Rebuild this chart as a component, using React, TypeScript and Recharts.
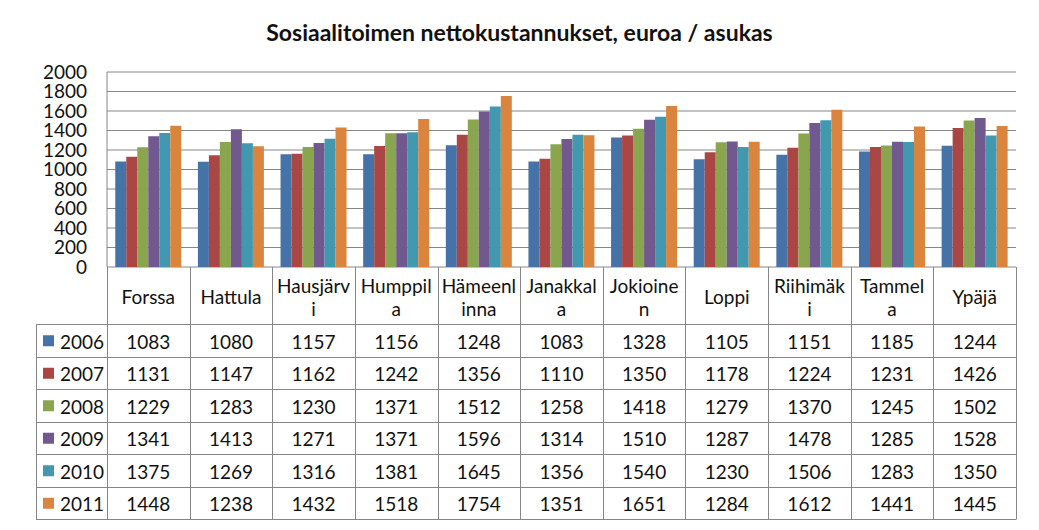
import React from 'react';
import { BarChart, Bar, XAxis, YAxis, CartesianGrid } from 'recharts';

// Municipality labels as shown in the data table (Excel wraps some of them mid-word)
const LABELS = [
  'Forssa', 'Hattula', 'Hausjärv\ni', 'Humppil\na', 'Hämeenl\ninna', 'Janakkal\na',
  'Jokioine\nn', 'Loppi', 'Riihimäk\ni', 'Tammel\na', 'Ypäjä',
];
const CATEGORIES = LABELS.map(l => l.replace('\n', ''));

const YEARS = ['2006', '2007', '2008', '2009', '2010', '2011'];
const V2006 = [1083, 1080, 1157, 1156, 1248, 1083, 1328, 1105, 1151, 1185, 1244];
const V2007 = [1131, 1147, 1162, 1242, 1356, 1110, 1350, 1178, 1224, 1231, 1426];
const V2008 = [1229, 1283, 1230, 1371, 1512, 1258, 1418, 1279, 1370, 1245, 1502];
const V2009 = [1341, 1413, 1271, 1371, 1596, 1314, 1510, 1287, 1478, 1285, 1528];
const V2010 = [1375, 1269, 1316, 1381, 1645, 1356, 1540, 1230, 1506, 1283, 1350];
const V2011 = [1448, 1238, 1432, 1518, 1754, 1351, 1651, 1284, 1612, 1441, 1445];
const SERIES = [V2006, V2007, V2008, V2009, V2010, V2011];
const Y_TICKS = [0, 200, 400, 600, 800, 1000, 1200, 1400, 1600, 1800, 2000];

const COLORS = ['#4572A7', '#AA4643', '#89A54E', '#71588F', '#4198AF', '#DB843D'];
const LINE = '#868686';
const FONT = 'Lato, "Open Sans", sans-serif';
const TEXT = '#111';

const data = CATEGORIES.map((name, i) => {
  const row: Record<string, string | number> = { name };
  YEARS.forEach((y, s) => { row[y] = SERIES[s][i]; });
  return row;
});

const W = 1039;
const H = 530;
const PLOT_L = 107;
const PLOT_R = 1016;
const PLOT_T = 72;
const PLOT_B = 267;
const Y_AXIS_W = 80;
const COL_W = (PLOT_R - PLOT_L) / CATEGORIES.length;
const TABLE_L = 36;
const HEADER_B = 324;
const TABLE_B = 519;
const ROW_H = (TABLE_B - HEADER_B) / YEARS.length;

const px = (v: number) => Math.round(v) + 0.5;

const DataTable = () => {
  const colX = (k: number) => PLOT_L + k * COL_W;
  const rowY = (r: number) => HEADER_B + r * ROW_H;
  return (
    <svg width={W} height={H} style={{ position: 'absolute', left: 0, top: 0, pointerEvents: 'none' }}>
      {/* vertical lines */}
      {CATEGORIES.map((_, k) => (
        <line key={`v${k}`} x1={px(colX(k + 1))} x2={px(colX(k + 1))} y1={PLOT_B} y2={TABLE_B} stroke={LINE} />
      ))}
      <line x1={px(PLOT_L)} x2={px(PLOT_L)} y1={PLOT_B} y2={TABLE_B} stroke={LINE} />
      <line x1={px(TABLE_L)} x2={px(TABLE_L)} y1={HEADER_B} y2={TABLE_B} stroke={LINE} />
      {/* horizontal lines */}
      {YEARS.map((_, r) => (
        <line key={`h${r}`} x1={TABLE_L} x2={px(PLOT_R)} y1={px(rowY(r))} y2={px(rowY(r))} stroke={LINE} />
      ))}
      <line x1={TABLE_L} x2={px(PLOT_R)} y1={px(TABLE_B)} y2={px(TABLE_B)} stroke={LINE} />

      {/* header labels */}
      {LABELS.map((label, k) => {
        const lines = label.split('\n');
        const cx = colX(k) + COL_W / 2;
        const cy = (PLOT_B + HEADER_B) / 2 + 1;
        return lines.map((t, j) => (
          <text key={`l${k}-${j}`} x={cx} y={cy + (j - (lines.length - 1) / 2) * 23}
            textAnchor="middle" dominantBaseline="central" fontFamily={FONT} fontSize={19} fill={TEXT}>
            {t}
          </text>
        ));
      })}

      {/* year rows */}
      {YEARS.map((y, r) => {
        const cy = rowY(r) + ROW_H / 2 + 1;
        return (
          <g key={`r${r}`}>
            <rect x={43} y={cy - 6} width={11} height={11} fill={COLORS[r]} />
            <text x={60} y={cy} dominantBaseline="central" fontFamily={FONT} fontSize={19} fill={TEXT}>{y}</text>
            {SERIES[r].map((v, k) => (
              <text key={k} x={colX(k) + COL_W / 2} y={cy} textAnchor="middle" dominantBaseline="central"
                fontFamily={FONT} fontSize={19} fill={TEXT}>
                {v}
              </text>
            ))}
          </g>
        );
      })}
    </svg>
  );
};

export default function App() {
  return (
    <div style={{ position: 'absolute', left: 0, top: 0, width: W, height: H, background: '#fff', fontFamily: FONT }}>
      <div style={{ position: 'absolute', left: 0, top: 18, width: W, textAlign: 'center', fontSize: 23, fontWeight: 700, color: TEXT }}>
        Sosiaalitoimen nettokustannukset, euroa / asukas
      </div>
      <div style={{ position: 'absolute', left: 0, top: 0 }}>
        <BarChart
          width={W}
          height={H}
          data={data}
          margin={{ top: PLOT_T, right: W - PLOT_R, bottom: H - PLOT_B, left: PLOT_L - Y_AXIS_W }}
          barCategoryGap="10%"
          barGap={0}
        >
          <CartesianGrid vertical={false} stroke={LINE} strokeWidth={1} />
          <XAxis dataKey="name" height={0} tick={false} tickLine={false} axisLine={{ stroke: LINE }} />
          <YAxis
            width={Y_AXIS_W}
            domain={[0, 2000]}
            ticks={Y_TICKS}
            interval={0}
            tickLine={false}
            tickSize={0}
            tickMargin={20}
            axisLine={{ stroke: LINE }}
            tick={{ fontFamily: FONT, fontSize: 19, fill: TEXT }}
          />
          {YEARS.map((y, s) => (
            <Bar key={y} dataKey={y} fill={COLORS[s]} isAnimationActive={false} />
          ))}
        </BarChart>
      </div>
      <DataTable />
    </div>
  );
}
